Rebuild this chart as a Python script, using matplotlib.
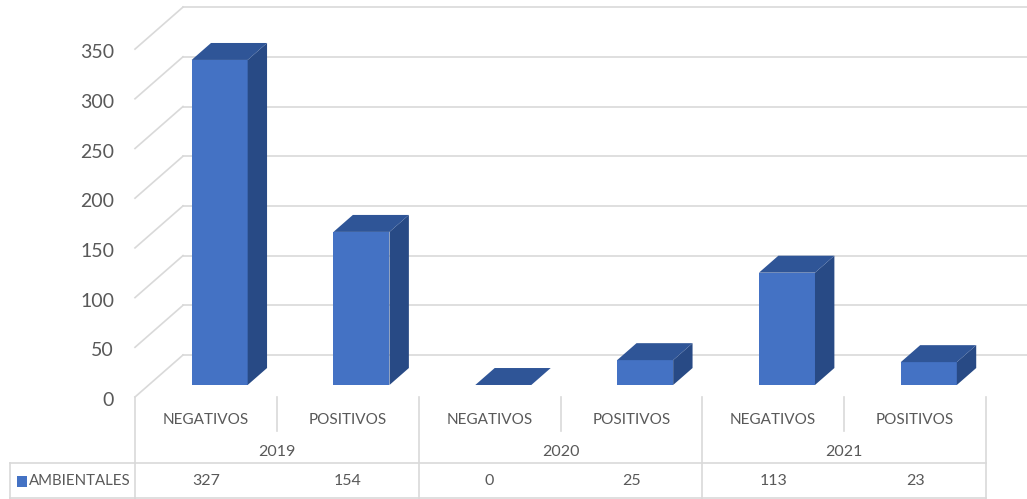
import matplotlib.pyplot as plt
import numpy as np
from matplotlib.patches import Polygon, Rectangle
from matplotlib.lines import Line2D
from matplotlib.transforms import blended_transform_factory, ScaledTranslation

plt.rcParams['font.family'] = ['Lato', 'DejaVu Sans']

# data
years = ['2019', '2020', '2021']
resultados = ['NEGATIVOS', 'POSITIVOS', 'NEGATIVOS', 'POSITIVOS', 'NEGATIVOS', 'POSITIVOS']
ambientales = [327, 154, 0, 25, 113, 23]
serie = 'AMBIENTALES'
yticks = [0, 50, 100, 150, 200, 250, 300, 350]

# colours
c_front = '#4472C4'
c_top = '#2F5597'
c_side = '#284A85'
c_grid = '#D9D9D9'
c_text = '#595959'

W, H = 1027, 499
fig = plt.figure(figsize=(W / 100, H / 100), dpi=100)

# front plane: x 0..6 categories, y in counts (about 0.994 px per unit)
ppu = 0.994
ymax = 399
ax = fig.add_axes([135 / W, (H - 397) / H, (986 - 135) / W, ymax * ppu / H])
ax.set_xlim(0, 6)
ax.set_ylim(0, ymax)
ax.patch.set_visible(False)
for s in ax.spines.values():
    s.set_visible(False)
ax.set_xticks([])
ax.set_yticks(yticks)
ax.tick_params(axis='y', length=0, pad=15, labelsize=14, labelcolor=c_text)
# nudge the value labels a touch downward
for lab in ax.get_yticklabels():
    lab.set_transform(lab.get_transform() + ScaledTranslation(0, -0.02, fig.dpi_scale_trans))

# oblique depth of the chart box, in data units
DX = 48 / (851 / 6)
DY = 42 / ppu

# side wall and back wall gridlines
for v in yticks:
    ax.plot([0, DX], [v, v + DY], color=c_grid, lw=1.2, clip_on=False, zorder=1)
    ax.plot([DX, 6 + DX], [v + DY, v + DY], color=c_grid, lw=1.2, clip_on=False, zorder=1)

# 3d-look columns
d0, d1 = 0.286, 0.69
bw = 0.395
x = np.arange(len(ambientales)) + 0.5
ax.bar(x + d0 * DX, ambientales, width=bw, bottom=d0 * DY, color=c_front, zorder=3)
bdx = (d1 - d0) * DX
bdy = (d1 - d0) * DY
for xi, v in zip(x, ambientales):
    l = xi + d0 * DX - bw / 2
    b = d0 * DY
    top = [(l, b + v), (l + bw, b + v), (l + bw + bdx, b + v + bdy), (l + bdx, b + v + bdy)]
    side = [(l + bw, b), (l + bw + bdx, b + bdy), (l + bw + bdx, b + v + bdy), (l + bw, b + v)]
    ax.add_patch(Polygon(side, closed=True, color=c_side, zorder=3, lw=0))
    ax.add_patch(Polygon(top, closed=True, color=c_top, zorder=4, lw=0))

# data table under the chart
tr = blended_transform_factory(ax.transData, fig.transFigure)


def fy(py):
    return 1 - py / H


for i in range(len(ambientales) + 1):
    y_end = 498 if i % 2 == 0 else 431
    ax.plot([i, i], [fy(397), fy(y_end)], transform=tr, color=c_grid, lw=1.2, clip_on=False)
for py in (463, 498):
    ax.plot([0, 6], [fy(py), fy(py)], transform=tr, color=c_grid, lw=1.2, clip_on=False)
    fig.add_artist(Line2D([10 / W, 135 / W], [fy(py), fy(py)], color=c_grid, lw=1.2))
fig.add_artist(Line2D([10 / W, 10 / W], [fy(463), fy(498)], color=c_grid, lw=1.2))

for xi, r, v in zip(x, resultados, ambientales):
    ax.text(xi, fy(420), r, transform=tr, ha='center', va='center', fontsize=11, color=c_text)
    ax.text(xi, fy(481), str(v), transform=tr, ha='center', va='center', fontsize=11.5, color=c_text)
for k, yr in enumerate(years):
    ax.text(2 * k + 1, fy(452), yr, transform=tr, ha='center', va='center', fontsize=11.5, color=c_text)

# series key
fig.add_artist(Rectangle((17 / W, fy(487)), 10 / W, 11 / H, transform=fig.transFigure,
                         color=c_front, lw=0))
fig.text(29 / W, fy(481), serie, ha='left', va='center', fontsize=10.8, color=c_text)

fig.savefig('out.png', dpi=100, facecolor='white')
